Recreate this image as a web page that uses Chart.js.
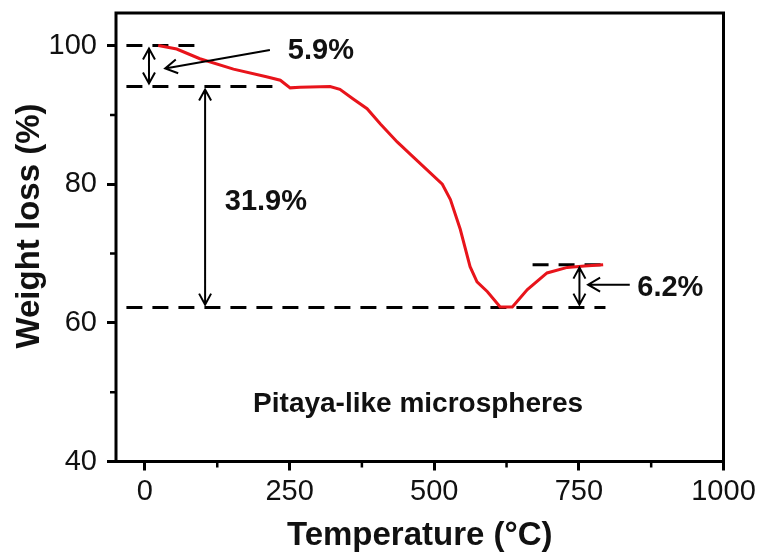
<!DOCTYPE html>
<html>
<head>
<meta charset="utf-8">
<script src="https://cdn.jsdelivr.net/npm/chart.js@4/dist/chart.umd.min.js"></script>
<style>
  html, body { margin: 0; padding: 0; background: #fff; }
  #wrap { width: 766px; height: 554px; }
</style>
</head>
<body>
<div id="wrap"><canvas id="c" width="766" height="554"></canvas></div>
<script>
// TGA curve of the pitaya-like microspheres
const temperature = [23, 55, 95, 153, 210, 234, 251, 268, 320, 337, 360, 384, 407, 436, 464, 514, 528, 545, 562, 574, 592, 614, 635, 661, 695, 730, 760, 792];
const weight      = [100, 99.5, 98.1, 96.6, 95.5, 95.0, 93.9, 94.0, 94.1, 93.7, 92.3, 90.9, 88.7, 86.1, 83.9, 80.0, 77.8, 73.5, 68.1, 65.9, 64.5, 62.3, 62.3, 64.8, 67.2, 68.0, 68.2, 68.4];

// axis ticks
const xTicks = [0, 250, 500, 750, 1000];
const xTickLabels = ['0', '250', '500', '750', '1000'];
const xMinorTicks = [125, 375, 625, 875];
const yTicks = [40, 60, 80, 100];
const yTickLabels = ['40', '60', '80', '100'];
const yMinorTicks = [50, 70, 90];

// reference levels (dashed) and their temperature spans
const levels    = [100, 94.1, 62.2, 68.4];
const levelFrom = [-32, -32, -32, 670];
const levelTo   = [95, 225, 796, 796];

// step markers: double arrows between levels
const stepAt    = [7, 104, 751];
const stepTop   = [100, 94.1, 68.4];
const stepBot   = [94.1, 62.2, 62.2];
const stepText  = ['5.9%', '31.9%', '6.2%'];
const stepTextT = [247, 138, 851];
const stepTextW = [99.2, 77.4, 65.0];

// pointer arrows from labels
const pointerFromT = [216, 838];
const pointerFromW = [99.35, 65.5];
const pointerToT   = [35, 766];
const pointerToW   = [96.7, 65.5];

const sampleName = 'Pitaya-like microspheres';
const sampleT = 187, sampleW = 48.3;

const FONT = "'Liberation Sans', Arial, sans-serif";

const dashedSets = levels.map((lv, i) => ({
  data: [{ x: levelFrom[i], y: lv }, { x: levelTo[i], y: lv }],
  borderColor: '#000',
  borderWidth: 3,
  borderDash: [16, 10],
  pointRadius: 0,
  order: 2
}));

function head(ctx, x0, y0, x1, y1, len, half) {
  const a = Math.atan2(y1 - y0, x1 - x0);
  const c = Math.cos(a), s = Math.sin(a);
  ctx.moveTo(x1 - len * c + half * s, y1 - len * s - half * c);
  ctx.lineTo(x1, y1);
  ctx.lineTo(x1 - len * c - half * s, y1 - len * s + half * c);
}

const decor = {
  id: 'decor',
  afterDraw(chart) {
    const { ctx, chartArea: a, scales: { x, y } } = chart;
    ctx.save();
    // plot frame
    ctx.strokeStyle = '#000';
    ctx.lineWidth = 3;
    ctx.strokeRect(a.left, a.top, a.right - a.left, a.bottom - a.top);

    // minor ticks
    ctx.lineWidth = 2.5;
    ctx.beginPath();
    xMinorTicks.forEach(v => {
      const px = x.getPixelForValue(v);
      ctx.moveTo(px, a.bottom); ctx.lineTo(px, a.bottom + 6);
    });
    yMinorTicks.forEach(v => {
      const py = y.getPixelForValue(v);
      ctx.moveTo(a.left, py); ctx.lineTo(a.left - 6, py);
    });
    ctx.stroke();

    // double arrows
    ctx.lineWidth = 2;
    ctx.beginPath();
    stepAt.forEach((t, i) => {
      const px = x.getPixelForValue(t);
      const y0 = y.getPixelForValue(stepTop[i]) + 3;
      const y1 = y.getPixelForValue(stepBot[i]) - 3;
      ctx.moveTo(px, y0); ctx.lineTo(px, y1);
      head(ctx, px, y1, px, y0, 11, 6);
      head(ctx, px, y0, px, y1, 11, 6);
    });
    // pointer arrows
    pointerFromT.forEach((t, i) => {
      const x0 = x.getPixelForValue(t), y0 = y.getPixelForValue(pointerFromW[i]);
      const x1 = x.getPixelForValue(pointerToT[i]), y1 = y.getPixelForValue(pointerToW[i]);
      ctx.moveTo(x0, y0); ctx.lineTo(x1, y1);
      head(ctx, x0, y0, x1, y1, 12, 7);
    });
    ctx.stroke();

    // step labels
    ctx.fillStyle = '#111';
    ctx.textBaseline = 'middle';
    ctx.textAlign = 'left';
    ctx.font = `bold 29px ${FONT}`;
    stepText.forEach((s, i) => {
      ctx.fillText(s, x.getPixelForValue(stepTextT[i]), y.getPixelForValue(stepTextW[i]));
    });
    ctx.font = `bold 28px ${FONT}`;
    ctx.fillText(sampleName, x.getPixelForValue(sampleT), y.getPixelForValue(sampleW));

    // axis titles
    ctx.font = `bold 33px ${FONT}`;
    ctx.textAlign = 'center';
    ctx.fillText('Temperature (°C)', (a.left + a.right) / 2, 536);
    ctx.translate(30, 226);
    ctx.rotate(-Math.PI / 2);
    ctx.fillText('Weight loss (%)', 0, 0);
    ctx.restore();
  }
};

new Chart(document.getElementById('c'), {
  type: 'line',
  data: {
    datasets: [
      {
        data: temperature.map((t, i) => ({ x: t, y: weight[i] })),
        borderColor: '#e8141b',
        borderWidth: 3,
        pointRadius: 0,
        tension: 0,
        order: 1
      },
      ...dashedSets
    ]
  },
  options: {
    responsive: false,
    devicePixelRatio: 1,
    animation: false,
    layout: { padding: { left: 0, top: 13, right: 42.5, bottom: 0 } },
    plugins: { legend: { display: false }, tooltip: { enabled: false } },
    scales: {
      x: {
        type: 'linear',
        min: -50,
        max: 1000,
        afterBuildTicks: s => { s.ticks = xTicks.map(v => ({ value: v })); },
        afterFit: s => { s.height = 92.5; s.paddingLeft = 0; s.paddingRight = 0; },
        border: { display: false },
        grid: { drawOnChartArea: false, drawTicks: true, tickLength: 9, tickWidth: 3, tickColor: '#000' },
        ticks: {
          color: '#111',
          font: { family: FONT, size: 29 },
          padding: 4,
          maxRotation: 0,
          autoSkip: false,
          callback: (v, i) => xTickLabels[i]
        }
      },
      y: {
        min: 40,
        max: 104.7,
        afterBuildTicks: s => { s.ticks = yTicks.map(v => ({ value: v })); },
        afterFit: s => { s.width = 116; s.paddingTop = 0; s.paddingBottom = 0; },
        border: { display: false },
        grid: { drawOnChartArea: false, drawTicks: true, tickLength: 9, tickWidth: 3, tickColor: '#000' },
        ticks: {
          color: '#111',
          font: { family: FONT, size: 29 },
          padding: 10,
          autoSkip: false,
          callback: (v, i) => yTickLabels[i]
        }
      }
    }
  },
  plugins: [decor]
});
</script>
</body>
</html>
